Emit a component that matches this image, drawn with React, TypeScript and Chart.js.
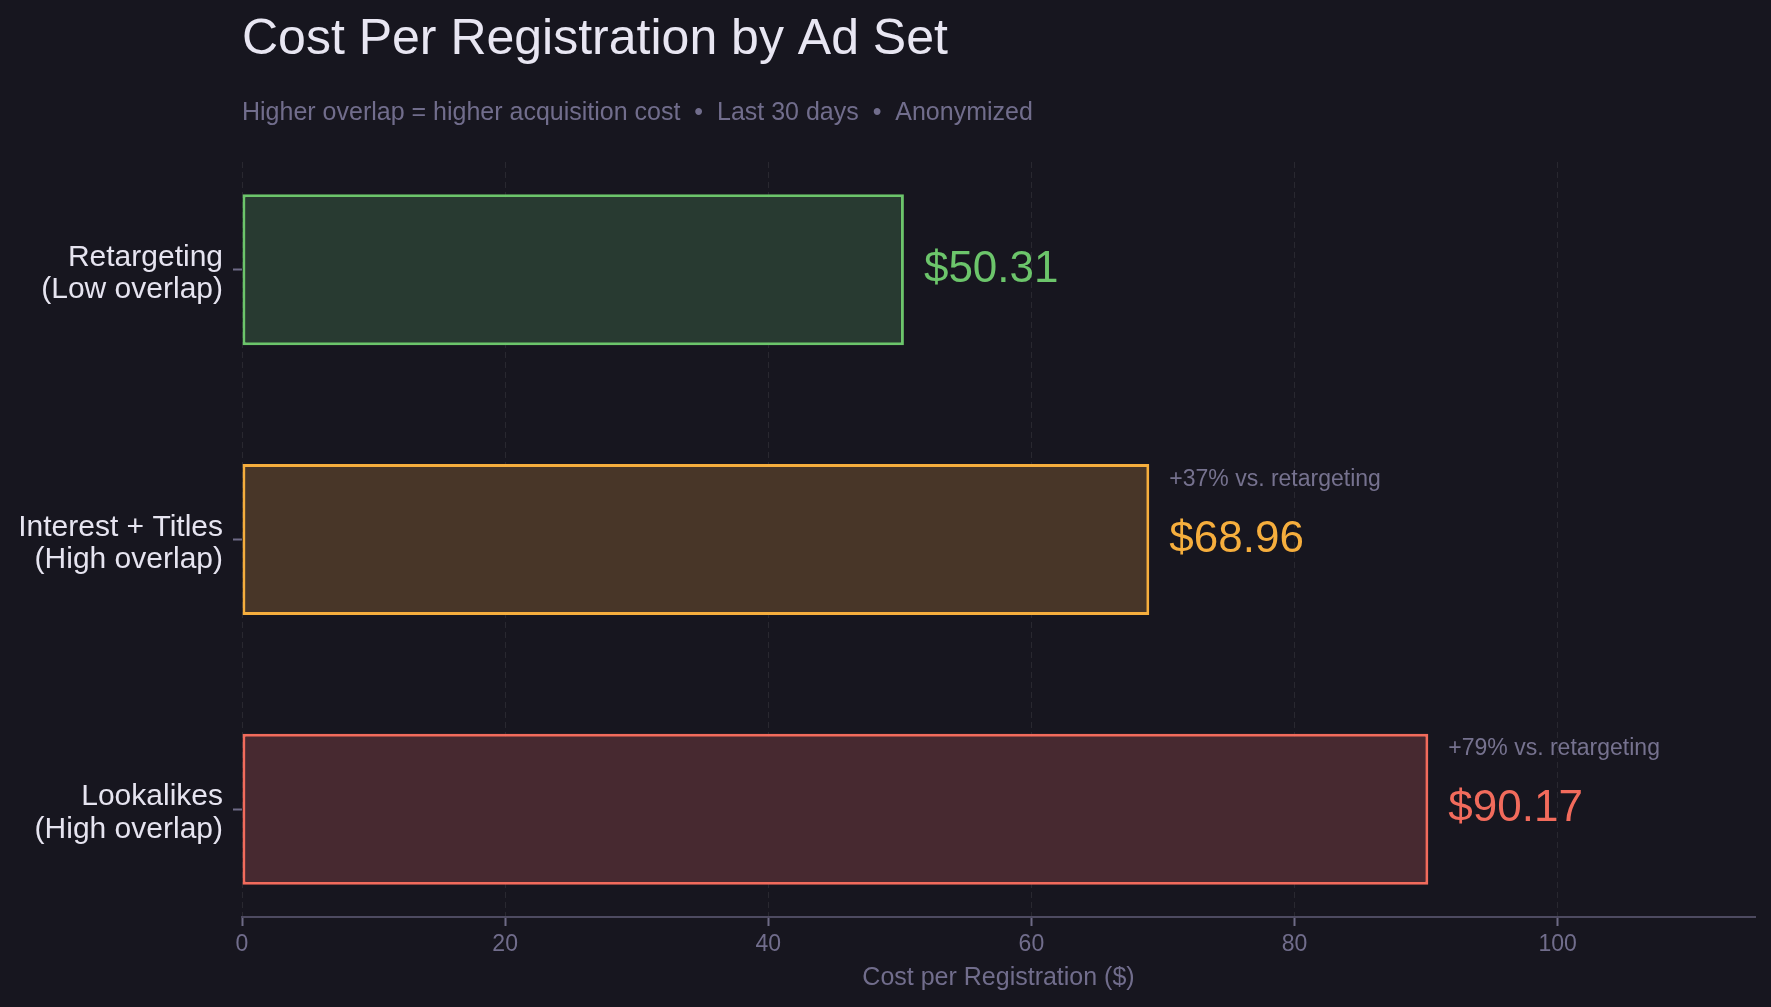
import { useEffect, useRef } from 'react'
import { Chart, registerables } from 'chart.js'

Chart.register(...registerables)

const categories = [
  ['Retargeting', '(Low overlap)'],
  ['Interest + Titles', '(High overlap)'],
  ['Lookalikes', '(High overlap)'],
]
const costs = [50.31, 68.96, 90.17]
const comparisons = ['', '+37% vs. retargeting', '+79% vs. retargeting']
const xTicks = [0, 20, 40, 60, 80, 100]

const strokeColors = ['#6cc56b', '#f6ae3d', '#f26b5c']
const fillColors = ['#283a31', '#483628', '#472930']

const FONT = '"Liberation Sans", Arial, Helvetica, sans-serif'
const BG = '#17161f'

const annotatePlugin = {
  id: 'annotate',
  afterDraw(chart: Chart) {
    const { ctx, chartArea } = chart
    const meta = chart.getDatasetMeta(0)
    ctx.save()
    // title + subtitle, aligned with the plot's left edge
    ctx.textAlign = 'left'
    ctx.textBaseline = 'middle'
    ctx.fillStyle = '#e8e6f2'
    ctx.font = `50px ${FONT}`
    ctx.fillText('Cost Per Registration by Ad Set', chartArea.left, 40)
    ctx.fillStyle = '#716d8c'
    ctx.font = `25px ${FONT}`
    ctx.fillText(
      'Higher overlap = higher acquisition cost  \u2022  Last 30 days  \u2022  Anonymized',
      chartArea.left,
      113
    )
    // value labels next to each bar
    meta.data.forEach((bar: any, i: number) => {
      const x = bar.x + 20
      ctx.fillStyle = strokeColors[i]
      ctx.font = `44px ${FONT}`
      ctx.fillText(`$${costs[i].toFixed(2)}`, x, bar.y)
      if (comparisons[i]) {
        ctx.fillStyle = '#76728f'
        ctx.font = `23px ${FONT}`
        ctx.fillText(comparisons[i], x, bar.y - 60)
      }
    })
    ctx.restore()
  },
}

export default function App() {
  const canvasRef = useRef<HTMLCanvasElement>(null)

  useEffect(() => {
    if (!canvasRef.current) return
    const chart = new Chart(canvasRef.current, {
      type: 'bar',
      data: {
        datasets: [
          {
            data: costs.map((v, i) => ({ x: v, y: i })),
            backgroundColor: fillColors,
            borderColor: strokeColors,
            borderWidth: 3,
            borderSkipped: false,
            barPercentage: 0.56,
            categoryPercentage: 1,
          },
        ],
      },
      options: {
        indexAxis: 'y',
        animation: false,
        responsive: true,
        maintainAspectRatio: false,
        layout: { padding: { top: 162, right: 16, left: 0, bottom: 0 } },
        plugins: {
          legend: { display: false },
          tooltip: { enabled: false },
        },
        scales: {
          x: {
            type: 'linear',
            min: 0,
            max: 115,
            afterFit: (scale: any) => {
              scale.height = 90
            },
            afterBuildTicks: (scale: any) => {
              scale.ticks = xTicks.map((v) => ({ value: v }))
            },
            ticks: {
              color: '#716d8c',
              font: { family: FONT, size: 23 },
              padding: 5,
            },
            grid: {
              color: 'rgba(255,255,255,0.08)',
              lineWidth: 1,
              tickColor: '#6e6a86',
              tickLength: 9,
              tickWidth: 2,
            },
            border: { display: true, color: '#4d4a60', width: 2, dash: [6, 4] },
            title: {
              display: true,
              text: 'Cost per Registration ($)',
              color: '#716d8c',
              font: { family: FONT, size: 25 },
              padding: { top: 4, bottom: 14 },
            },
          },
          y: {
            type: 'linear',
            min: -0.4,
            max: 2.4,
            reverse: true,
            offset: false,
            afterFit: (scale: any) => {
              scale.width = 242
            },
            afterBuildTicks: (scale: any) => {
              scale.ticks = categories.map((_, i) => ({ value: i }))
            },
            ticks: {
              color: '#e6e4f0',
              font: { family: FONT, size: 30, lineHeight: 1.08 },
              padding: 10,
              labelOffset: 4,
              callback: (v: any) => categories[Number(v)] ?? '',
            },
            grid: {
              offset: false,
              drawOnChartArea: false,
              drawTicks: true,
              tickLength: 9,
              tickColor: '#6e6a86',
              tickWidth: 2,
            },
            border: { display: false },
          },
        },
      },
      plugins: [annotatePlugin],
    })
    return () => chart.destroy()
  }, [])

  return (
    <div
      style={{
        position: 'fixed',
        left: 0,
        top: 0,
        width: '100vw',
        height: '100vh',
        background: BG,
      }}
    >
      <canvas ref={canvasRef} />
    </div>
  )
}
